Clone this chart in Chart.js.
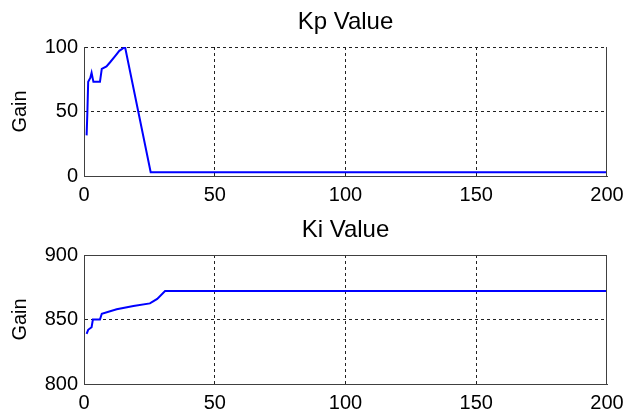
<!DOCTYPE html>
<html>
<head>
<meta charset="utf-8">
<script src="https://cdn.jsdelivr.net/npm/chart.js@4"></script>
<style>
	body { margin: 0; background: #fff; width: 627px; height: 410px; overflow: hidden; position: relative; }
	.box { position: absolute; left: 0; width: 627px; }
</style>
</head>
<body>
<div class="box" style="top:0;height:206px"><canvas id="kp-chart"></canvas></div>
<div class="box" style="top:208px;height:202px"><canvas id="ki-chart"></canvas></div>
<script>
// data
const x_ticks = [0, 50, 100, 150, 200];

const kp_x = [1, 1.3, 1.6, 2.4, 2.9, 3.6, 6.1, 6.8, 8.6, 9.9, 11.9, 13.5, 15.7, 25.5, 200];
const kp_y = [31.5, 50, 73, 76, 80, 73, 73, 83, 85, 88, 93, 97, 100, 3, 3];
const kp_ticks = [0, 50, 100];

const ki_x = [1, 1.6, 2.9, 3.4, 6.1, 6.8, 12.5, 18.9, 25.2, 28, 31, 200];
const ki_y = [838.8, 842, 844, 850, 850, 854.5, 858, 860.5, 862.5, 866, 872, 872];
const ki_ticks = [800, 850, 900];

Chart.defaults.font.family = '"Liberation Sans", Arial, sans-serif';
Chart.defaults.color = '#000';
Chart.defaults.animation = false;

function toPoints(xs, ys) {
	return xs.map((x, i) => ({ x: x, y: ys[i] }));
}

// MATLAB-ish box (right edge, top edge where solid) and a title centred over the axes
const boxPlugin = {
	id: 'box',
	afterDraw(chart, args, opts) {
		const a = chart.chartArea;
		const ctx = chart.ctx;
		ctx.save();
		ctx.strokeStyle = '#404040';
		ctx.lineWidth = 1;
		ctx.beginPath();
		ctx.moveTo(a.right - 0.5, a.top);
		ctx.lineTo(a.right - 0.5, a.bottom);
		if (opts.solidTop) {
			ctx.moveTo(a.left, a.top + 0.5);
			ctx.lineTo(a.right, a.top + 0.5);
		}
		ctx.stroke();

		ctx.fillStyle = '#000';
		ctx.font = '24px "Liberation Sans", Arial, sans-serif';
		ctx.textAlign = 'center';
		ctx.textBaseline = 'alphabetic';
		ctx.fillText(opts.title, (a.left + a.right) / 2, 29);
		ctx.restore();
	},
};

function makeOptions(title, yTicks, xHeight, solidTop) {
	const yMin = yTicks[0];
	const yMax = yTicks[yTicks.length - 1];
	return {
		responsive: true,
		maintainAspectRatio: false,
		layout: { padding: { left: 0, right: 20, top: 47, bottom: 0 } },
		plugins: {
			legend: { display: false },
			tooltip: { enabled: false },
			title: { display: false },
			box: { title: title, solidTop: solidTop },
		},
		scales: {
			x: {
				type: 'linear',
				min: 0,
				max: 200,
				afterBuildTicks: (s) => { s.ticks = x_ticks.map((v) => ({ value: v })); },
				afterFit: (s) => {
					s.height = xHeight;
					s.paddingLeft = 0;
					s.paddingRight = 0;
				},
				ticks: { font: { size: 20 }, padding: 7, color: '#000', maxRotation: 0 },
				grid: {
					drawTicks: false,
					color: (c) => (c.tick && (c.tick.value === 0 || c.tick.value === 200)) ? 'rgba(0,0,0,0)' : '#222',
					lineWidth: 1,
				},
				border: { display: true, color: '#404040', width: 1, dash: [3, 3] },
			},
			y: {
				min: yMin,
				max: yMax,
				afterBuildTicks: (s) => { s.ticks = yTicks.map((v) => ({ value: v })); },
				afterFit: (s) => {
					s.width = 84;
					s.paddingTop = 0;
					s.paddingBottom = 0;
				},
				ticks: { font: { size: 20 }, padding: 6, color: '#000' },
				title: {
					display: true,
					text: 'Gain',
					font: { size: 20 },
					color: '#000',
					padding: { top: 8, bottom: 0 },
				},
				grid: {
					drawTicks: false,
					color: (c) => {
						if (!c.tick) return '#222';
						if (c.tick.value === yMin) return 'rgba(0,0,0,0)';
						if (c.tick.value === yMax && solidTop) return 'rgba(0,0,0,0)';
						return '#222';
					},
					lineWidth: 1,
				},
				border: { display: true, color: '#404040', width: 1, dash: [3, 3] },
			},
		},
	};
}

const lineStyle = {
	borderColor: '#0000ff',
	borderWidth: 2,
	pointRadius: 0,
	tension: 0,
	fill: false,
};

var kp_chart = new Chart(document.getElementById('kp-chart').getContext('2d'), {
	type: 'line',
	data: { datasets: [Object.assign({ data: toPoints(kp_x, kp_y) }, lineStyle)] },
	options: makeOptions('Kp Value', kp_ticks, 30, false),
	plugins: [boxPlugin],
});

var ki_chart = new Chart(document.getElementById('ki-chart').getContext('2d'), {
	type: 'line',
	data: { datasets: [Object.assign({ data: toPoints(ki_x, ki_y) }, lineStyle)] },
	options: makeOptions('Ki Value', ki_ticks, 26, true),
	plugins: [boxPlugin],
});
</script>
</body>
</html>
